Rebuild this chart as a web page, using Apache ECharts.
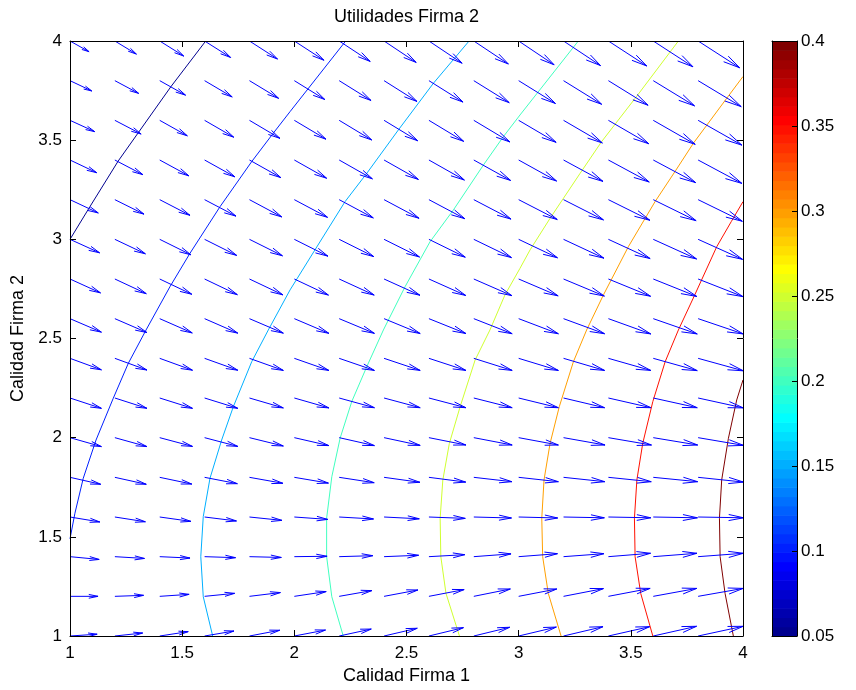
<!DOCTYPE html>
<html>
<head>
<meta charset="utf-8">
<script src="https://cdn.jsdelivr.net/npm/echarts@6/dist/echarts.min.js"></script>
<style>html,body{margin:0;padding:0;background:#fff}#c{width:856px;height:690px}</style>
</head>
<body>
<div id="c"></div>
<script>
// ---------------- DATA ----------------
const TITLE = 'Utilidades Firma 2';
const X_NAME = 'Calidad Firma 1';
const Y_NAME = 'Calidad Firma 2';
const X_TICKS = [1, 1.5, 2, 2.5, 3, 3.5, 4];
const Y_TICKS = [1, 1.5, 2, 2.5, 3, 3.5, 4];
const CBAR_TICKS = [0.05, 0.1, 0.15, 0.2, 0.25, 0.3, 0.35, 0.4];
const CMIN = 0.05, CMAX = 0.4;

// quiver grid (the x = 4 column lies outside the clipped axes in the original)
const X_GRID = [1.0, 1.2, 1.4, 1.6, 1.8, 2.0, 2.2, 2.4, 2.6, 2.8, 3.0, 3.2, 3.4, 3.6, 3.8];
const Y_GRID = [1.0, 1.2, 1.4, 1.6, 1.8, 2.0, 2.2, 2.4, 2.6, 2.8, 3.0, 3.2, 3.4, 3.6, 3.8, 4.0];
const Q_SCALE = 0.001; // U, V given in thousandths of axis units
// rows follow Y_GRID (bottom to top), columns follow X_GRID
const U = [
  [121,124,127,131,135,139,143,148,154,160,168,176,184,193,201],
  [125,128,131,134,138,142,146,151,157,163,170,178,186,194,201],
  [130,132,135,138,142,146,150,154,160,166,173,180,188,195,202],
  [133,136,139,142,145,149,153,157,162,168,174,182,189,197,203],
  [137,140,143,146,149,152,156,160,164,170,177,184,191,198,203],
  [140,143,146,148,151,154,157,161,165,171,177,185,192,198,203],
  [140,143,146,148,151,154,157,161,165,171,177,183,190,196,202],
  [140,143,146,148,151,154,157,161,165,171,177,183,189,196,202],
  [140,143,145,148,151,154,157,161,165,171,177,183,189,196,201],
  [136,140,143,146,149,152,156,160,164,170,176,182,188,194,200],
  [132,136,139,143,147,150,154,158,162,168,173,180,186,193,198],
  [126,130,135,140,144,148,152,156,160,166,172,178,185,191,197],
  [119,125,130,135,140,144,148,153,158,164,169,176,182,189,195],
  [110,117,123,130,136,141,145,150,155,161,167,173,180,187,195],
  [ 97,106,115,123,130,136,142,147,152,158,164,170,177,184,192],
  [ 85, 96,107,116,125,132,138,143,148,154,158,165,171,177,185]
];
const V = [
  [  9, 15, 22, 25, 29, 30, 35, 39, 42, 44, 45, 47, 47, 49, 49],
  [  0,  5, 10, 15, 19, 24, 29, 32, 34, 37, 37, 39, 40, 40, 40],
  [-14, -9, -7, -5, -4,  2,  5,  7, 10, 14, 15, 15, 17, 17, 17],
  [-25,-24,-22,-20,-17,-12,-10, -9, -7, -5, -5, -4, -4, -4, -4],
  [-35,-35,-34,-32,-30,-29,-27,-25,-24,-22,-22,-22,-22,-22,-24],
  [-45,-45,-44,-44,-42,-40,-40,-39,-37,-37,-37,-37,-37,-37,-39],
  [-52,-52,-52,-52,-50,-50,-49,-49,-49,-49,-49,-49,-49,-49,-50],
  [-58,-59,-60,-60,-61,-61,-61,-61,-61,-61,-61,-61,-61,-62,-63],
  [-68,-70,-72,-73,-73,-74,-74,-75,-75,-76,-76,-76,-77,-77,-77],
  [-70,-74,-77,-79,-80,-81,-81,-82,-83,-84,-85,-86,-87,-88,-89],
  [-68,-73,-78,-81,-83,-85,-87,-89,-90,-92,-93,-95,-97,-99,-101],
  [-67,-73,-79,-83,-87,-89,-92,-94,-96,-98,-100,-102,-104,-106,-109],
  [-64,-74,-80,-85,-89,-92,-95,-98,-101,-103,-106,-108,-111,-114,-118],
  [-57,-69,-78,-85,-91,-95,-99,-103,-106,-109,-111,-114,-118,-121,-125],
  [-52,-64,-73,-82,-89,-95,-100,-105,-108,-111,-115,-119,-124,-127,-131],
  [-54,-66,-76,-83,-91,-97,-103,-108,-112,-116,-120,-124,-126,-130,-135]
];

// contour levels and their traced lines [x, y]
const LEVELS = [0.05, 0.1, 0.15, 0.2, 0.25, 0.3, 0.35, 0.4];
const C_005 = [[1.0,3.0],[1.089,3.165],[1.215,3.395],[1.45,3.77],[1.605,4.0]];
const C_010 = [[1.0,1.49],[1.022,1.619],[1.059,1.795],[1.116,1.988],[1.193,2.199],[1.26,2.375],[1.339,2.543],[1.446,2.762],[1.535,2.93],[1.669,3.165],[1.81,3.392],[1.906,3.535],[1.981,3.644],[2.229,4.0]];
const C_015 = [[1.636,1.0],[1.594,1.198],[1.583,1.4],[1.594,1.602],[1.624,1.795],[1.676,1.988],[1.728,2.156],[1.81,2.383],[1.884,2.543],[1.981,2.745],[2.092,2.947],[2.226,3.19],[2.323,3.333],[2.464,3.552],[2.62,3.787],[2.779,4.0]];
const C_020 = [[2.218,1.0],[2.167,1.198],[2.144,1.4],[2.144,1.594],[2.167,1.803],[2.204,1.997],[2.256,2.182],[2.323,2.358],[2.397,2.543],[2.494,2.762],[2.605,2.988],[2.709,3.148],[2.843,3.375],[2.932,3.518],[3.006,3.627],[3.266,4.0]];
const C_025 = [[2.736,1.0],[2.676,1.215],[2.653,1.4],[2.65,1.594],[2.662,1.787],[2.691,1.971],[2.739,2.156],[2.806,2.392],[2.872,2.543],[2.939,2.72],[3.006,2.854],[3.051,2.947],[3.14,3.106],[3.274,3.333],[3.37,3.493],[3.526,3.721],[3.712,4.0]];
const C_030 = [[3.189,1.0],[3.132,1.215],[3.107,1.4],[3.103,1.594],[3.113,1.787],[3.14,1.971],[3.181,2.156],[3.244,2.383],[3.303,2.543],[3.378,2.72],[3.489,2.963],[3.608,3.19],[3.697,3.342],[3.779,3.485],[3.928,3.712],[4.0,3.821]];
const C_035 = [[3.598,1.0],[3.544,1.215],[3.519,1.4],[3.516,1.594],[3.527,1.787],[3.553,1.971],[3.598,2.182],[3.653,2.383],[3.712,2.543],[3.785,2.72],[3.883,2.963],[3.948,3.09],[4.0,3.19]];
const C_040 = [[3.957,1.0],[3.92,1.215],[3.898,1.4],[3.895,1.594],[3.905,1.787],[3.935,1.997],[3.972,2.19],[4.0,2.291]];
const CONTOURS = [C_005, C_010, C_015, C_020, C_025, C_030, C_035, C_040];

// ---------------- STYLE / HELPERS ----------------
const FONT = '"Liberation Sans", Arial, Helvetica, sans-serif';
const NCOL = 64;
function jet(i) { // MATLAB jet(64), i = 1..64
  const u = k => (k <= 16 ? k / 16 : (k <= 31 ? 1 : (48 - k) / 16));
  const r = i >= 25 ? u(i - 24) : 0;
  const g = (i >= 9 && i <= 55) ? u(i - 8) : 0;
  const b = i <= 39 ? u(i + 8) : 0;
  return 'rgb(' + Math.round(r * 255) + ',' + Math.round(g * 255) + ',' + Math.round(b * 255) + ')';
}
function levelColor(lev) {
  const idx = Math.min(NCOL, Math.floor((lev - CMIN) / (CMAX - CMIN) * NCOL + 1e-9) + 1);
  return jet(idx);
}

const arrows = [];
for (let j = 0; j < Y_GRID.length; j++) {
  for (let i = 0; i < X_GRID.length; i++) {
    arrows.push([X_GRID[i], Y_GRID[j], U[j][i] * Q_SCALE, V[j][i] * Q_SCALE]);
  }
}
const HEAD_A = 0.33, HEAD_B = 0.23;

const bands = [];
for (let k = 0; k < NCOL; k++) bands.push([k]);

const fmt1 = v => String(Math.round(v * 10) / 10);
const fmt2 = v => String(Math.round(v * 100) / 100);

const axisLineS = { show: true, onZero: false, lineStyle: { color: '#000', width: 1 } };
const tickS = { show: true, inside: true, length: 6, lineStyle: { color: '#000', width: 1 } };
const labelS = { color: '#000', fontSize: 17, fontFamily: FONT };

const series = [];
LEVELS.forEach((lev, n) => {
  series.push({
    type: 'line', xAxisIndex: 0, yAxisIndex: 0, data: CONTOURS[n],
    symbol: 'none', showSymbol: false, smooth: false, clip: true, silent: true,
    lineStyle: { color: levelColor(lev), width: 1 }, z: 2
  });
});
series.push({
  type: 'custom', xAxisIndex: 0, yAxisIndex: 0, data: arrows, clip: true, silent: true, z: 3,
  renderItem: function (params, api) {
    const x = api.value(0), y = api.value(1), u = api.value(2), v = api.value(3);
    const p0 = api.coord([x, y]);
    const p1 = api.coord([x + u, y + v]);
    const h1 = api.coord([x + u - HEAD_A * (u + HEAD_B * v), y + v - HEAD_A * (v - HEAD_B * u)]);
    const h2 = api.coord([x + u - HEAD_A * (u - HEAD_B * v), y + v - HEAD_A * (v + HEAD_B * u)]);
    return {
      type: 'group', children: [
        { type: 'line', shape: { x1: p0[0], y1: p0[1], x2: p1[0], y2: p1[1] }, style: { stroke: '#0000ff', lineWidth: 1 } },
        { type: 'polyline', shape: { points: [h1, p1, h2] }, style: { stroke: '#0000ff', fill: null, lineWidth: 1 } }
      ]
    };
  }
});
series.push({
  type: 'custom', xAxisIndex: 2, yAxisIndex: 3, data: bands, silent: true, z: 2,
  renderItem: function (params, api) {
    const k = api.value(0);
    const step = (CMAX - CMIN) / NCOL;
    const lo = CMIN + k * step, hi = lo + step;
    const a = api.coord([0, hi]), b = api.coord([1, lo]);
    return { type: 'rect', shape: { x: a[0], y: a[1], width: b[0] - a[0], height: b[1] - a[1] + 0.6 }, style: { fill: jet(k + 1) } };
  }
});

const option = {
  animation: false,
  backgroundColor: '#fff',
  grid: [
    { left: 70, top: 41, width: 673, height: 595 },
    { left: 772, top: 41, width: 25, height: 595 }
  ],
  graphic: [{
    type: 'text', x: 406.5, y: 8, z: 20,
    style: { text: TITLE, fontSize: 18, fontFamily: FONT, fill: '#000', align: 'center', textAlign: 'center', verticalAlign: 'top', textVerticalAlign: 'top' }
  }],
  xAxis: [
    { gridIndex: 0, type: 'value', min: X_TICKS[0], max: X_TICKS[X_TICKS.length - 1], interval: 0.5, position: 'bottom',
      axisLine: axisLineS, axisTick: tickS, splitLine: { show: false },
      axisLabel: Object.assign({ margin: 9, formatter: fmt1 }, labelS),
      name: X_NAME, nameLocation: 'middle', nameGap: 30,
      nameTextStyle: { color: '#000', fontSize: 18, fontFamily: FONT }, z: 10 },
    { gridIndex: 0, type: 'value', min: X_TICKS[0], max: X_TICKS[X_TICKS.length - 1], interval: 0.5, position: 'top',
      axisLine: axisLineS, axisTick: tickS, splitLine: { show: false }, axisLabel: { show: false }, z: 10 },
    { gridIndex: 1, type: 'value', min: 0, max: 1, position: 'bottom',
      axisLine: axisLineS, axisTick: { show: false }, splitLine: { show: false }, axisLabel: { show: false }, z: 10 },
    { gridIndex: 1, type: 'value', min: 0, max: 1, position: 'top',
      axisLine: axisLineS, axisTick: { show: false }, splitLine: { show: false }, axisLabel: { show: false }, z: 10 }
  ],
  yAxis: [
    { gridIndex: 0, type: 'value', min: Y_TICKS[0], max: Y_TICKS[Y_TICKS.length - 1], interval: 0.5, position: 'left',
      axisLine: axisLineS, axisTick: tickS, splitLine: { show: false },
      axisLabel: Object.assign({ margin: 8, formatter: fmt1 }, labelS),
      name: Y_NAME, nameLocation: 'middle', nameGap: 41,
      nameTextStyle: { color: '#000', fontSize: 18, fontFamily: FONT }, z: 10 },
    { gridIndex: 0, type: 'value', min: Y_TICKS[0], max: Y_TICKS[Y_TICKS.length - 1], interval: 0.5, position: 'right',
      axisLine: axisLineS, axisTick: tickS, splitLine: { show: false }, axisLabel: { show: false }, z: 10 },
    { gridIndex: 1, type: 'value', min: CMIN, max: CMAX, interval: 0.05, position: 'left',
      axisLine: axisLineS, axisTick: { show: false }, splitLine: { show: false }, axisLabel: { show: false }, z: 10 },
    { gridIndex: 1, type: 'value', min: CMIN, max: CMAX, interval: 0.05, position: 'right',
      axisLine: axisLineS, axisTick: { show: true, inside: true, length: 5, lineStyle: { color: '#000' } },
      splitLine: { show: false },
      axisLabel: Object.assign({ margin: 4, formatter: fmt2 }, labelS), z: 10 }
  ],
  series: series
};

const chart = echarts.init(document.getElementById('c'), null, { renderer: 'canvas' });
chart.setOption(option);
</script>
</body>
</html>
